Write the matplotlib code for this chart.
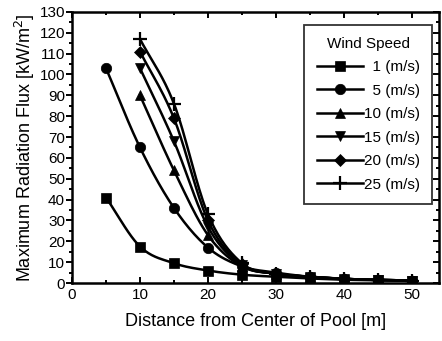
import numpy as np
import matplotlib.pyplot as plt
from matplotlib.ticker import MultipleLocator

plt.rcParams['font.family'] = ['Liberation Sans', 'DejaVu Sans']

# distances [m]
dist_1 = [5, 10, 15, 20, 25, 30, 35, 40, 45, 50]
dist_n = [10, 15, 20, 25, 30, 35, 40, 45, 50]

# maximum radiation flux [kW/m2] per wind speed
flux_1 = [41, 17.5, 9.5, 6, 4, 3, 2.2, 1.6, 1.3, 1.1]
flux_5 = [103, 65, 36, 17, 8, 5, 3, 2, 1.5, 1.2]
flux_10 = [90, 54, 23, 8, 4.5, 3, 2, 1.5, 1.2]
flux_15 = [103, 68, 27, 8.5, 4.5, 3, 2, 1.5, 1.2]
flux_20 = [111, 79, 30, 9, 4.5, 3, 2, 1.5, 1.2]
flux_25 = [117, 86, 33, 9.5, 4.5, 3, 2, 1.5, 1.2]

labels = ['\u20071 (m/s)', '\u20075 (m/s)', '10 (m/s)', '15 (m/s)', '20 (m/s)', '25 (m/s)']
markers = ['s', 'o', '^', 'v', 'D', '+']


def smooth(x, y, n=20):
    # catmull-rom curve through the points, for drawing only
    x = np.asarray(x, float)
    y = np.asarray(y, float)
    px = np.concatenate([[2 * x[0] - x[1]], x, [2 * x[-1] - x[-2]]])
    py = np.concatenate([[2 * y[0] - y[1]], y, [2 * y[-1] - y[-2]]])
    xs, ys = [], []
    t = np.linspace(0, 1, n, endpoint=False)
    for i in range(1, len(px) - 2):
        for arr, out in ((px, xs), (py, ys)):
            p0, p1, p2, p3 = arr[i - 1:i + 3]
            out.extend(0.5 * (2 * p1 + (-p0 + p2) * t
                              + (2 * p0 - 5 * p1 + 4 * p2 - p3) * t ** 2
                              + (-p0 + 3 * p1 - 3 * p2 + p3) * t ** 3))
    xs.append(x[-1])
    ys.append(y[-1])
    return np.array(xs), np.array(ys)


fig = plt.figure(figsize=(4.42, 3.41), dpi=100)
ax = fig.add_axes([0.163, 0.17, 0.83, 0.795])

series = [(dist_1, flux_1), ([5] + dist_n, flux_5), (dist_n, flux_10),
          (dist_n, flux_15), (dist_n, flux_20), (dist_n, flux_25)]

for (xv, yv), lab, m in zip(series, labels, markers):
    sx, sy = smooth(xv, yv)
    ax.plot(sx, sy, color='black', lw=1.8, zorder=2)
    ms = 10 if m == '+' else (6.5 if m == 'D' else 7.5)
    ax.plot(xv, yv, ls='none', marker=m, color='black', ms=ms,
            mew=1.6 if m == '+' else 0.5, zorder=3)
    ax.plot([], [], color='black', lw=1.8, marker=m, ms=ms,
            mew=1.6 if m == '+' else 0.5, label=lab)

ax.set_xlim(0, 54)
ax.set_ylim(0, 130)
ax.xaxis.set_major_locator(MultipleLocator(10))
ax.xaxis.set_minor_locator(MultipleLocator(5))
ax.yaxis.set_major_locator(MultipleLocator(10))
ax.yaxis.set_minor_locator(MultipleLocator(5))
ax.tick_params(axis='x', which='both', direction='in', top=True, labelsize=11, width=1.4)
ax.tick_params(axis='y', which='both', direction='out', labelsize=11, width=1.4, pad=1)
ax.tick_params(which='major', length=4)
ax.tick_params(which='minor', length=2.5)
for s in ax.spines.values():
    s.set_linewidth(1.8)

right = ax.secondary_yaxis('right')
right.yaxis.set_major_locator(MultipleLocator(10))
right.yaxis.set_minor_locator(MultipleLocator(5))
right.tick_params(which='both', direction='in', labelright=False, width=1.4)
right.tick_params(which='major', length=4)
right.tick_params(which='minor', length=2.5)

ax.set_xlabel('Distance from Center of Pool [m]', fontsize=13, labelpad=8)
ax.set_ylabel('Maximum Radiation Flux [kW/m$^2$]', fontsize=13, labelpad=2)

leg = ax.legend(title='Wind Speed', loc='upper right', bbox_to_anchor=(0.982, 0.953),
                fontsize=11, title_fontsize=11, frameon=True, fancybox=False,
                edgecolor='black', handlelength=3.0, handletextpad=0.1,
                labelspacing=0.62, borderpad=0.8, borderaxespad=0)
leg.get_frame().set_linewidth(1.3)

fig.savefig('out.png', dpi=100)
